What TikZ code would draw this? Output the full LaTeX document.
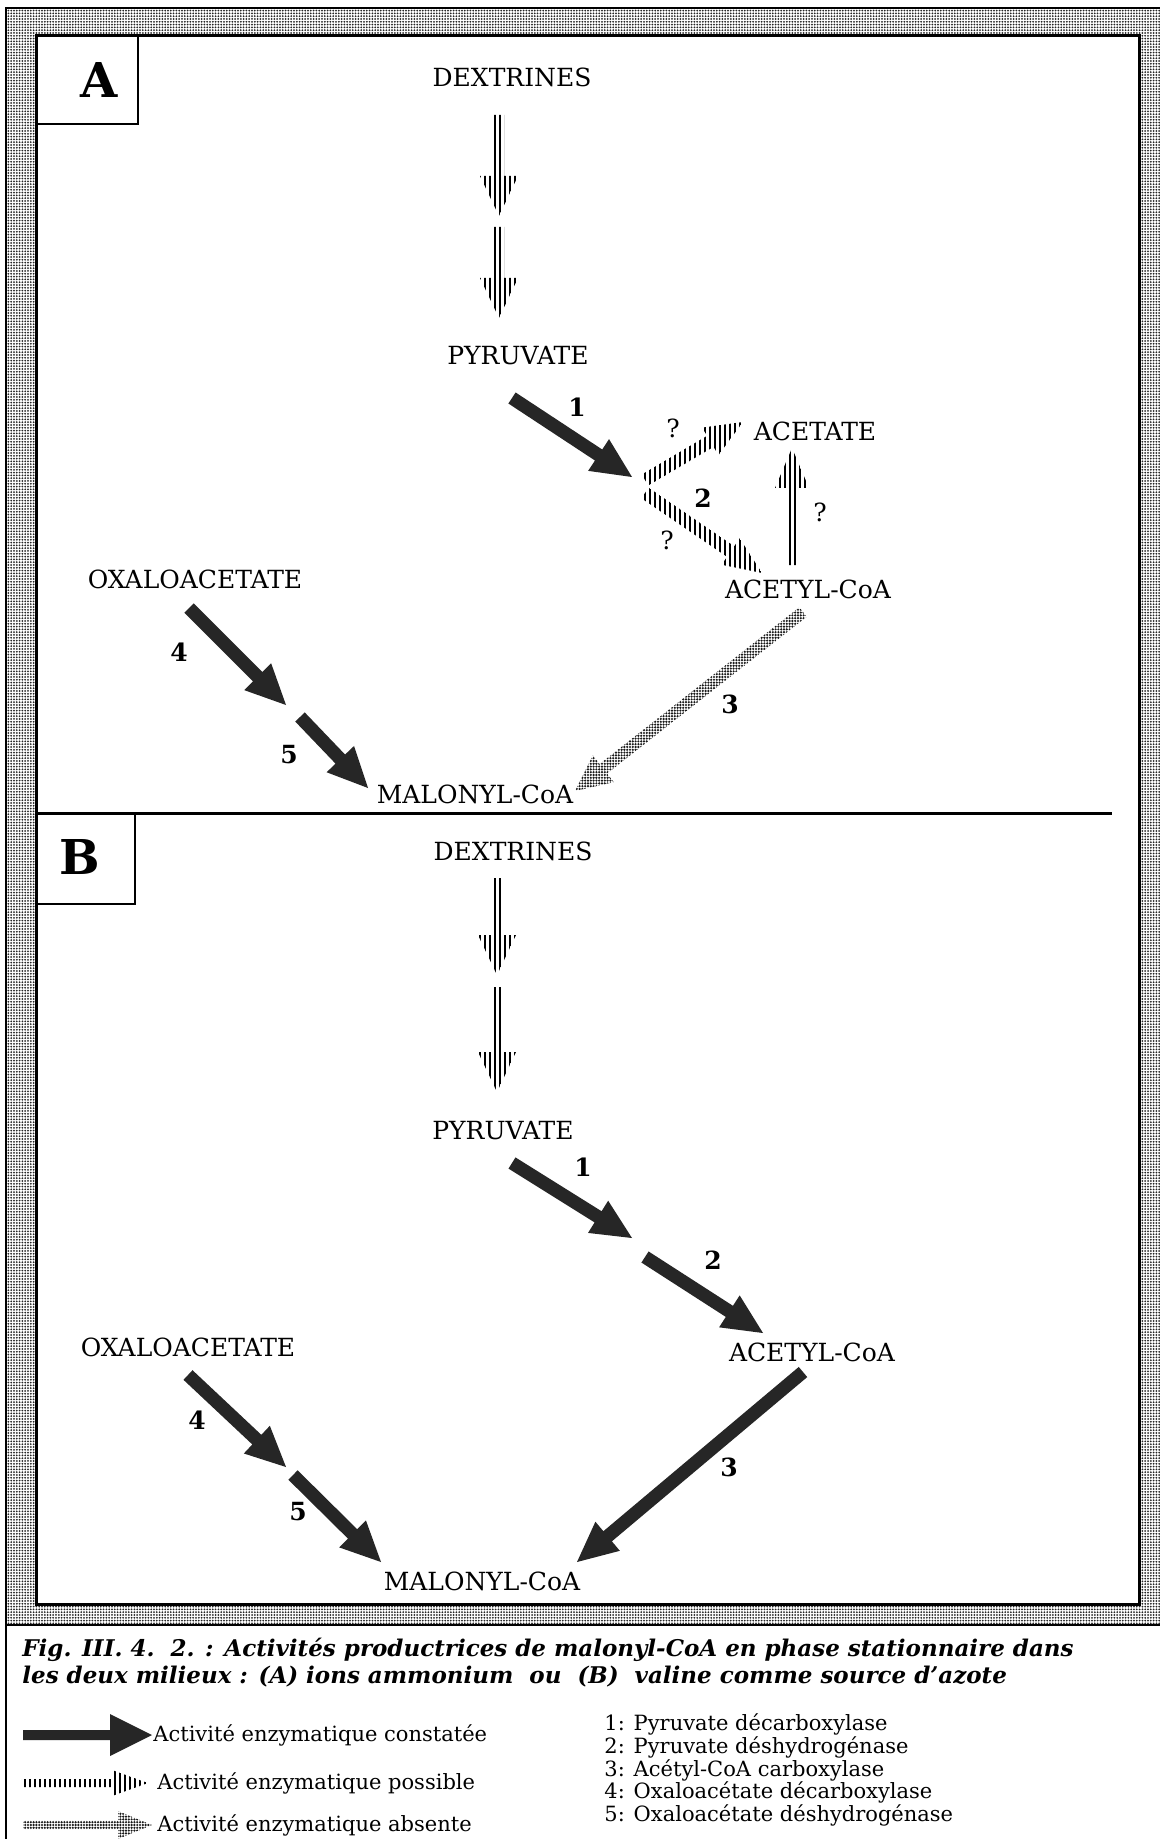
\documentclass[tikz,border=0pt]{standalone}
\usepackage{fontspec}
\setmainfont{DejaVu Serif}
\usetikzlibrary{calc,patterns.meta}

\newcommand\bigarrow[3]{%
  \path[#1] coordinate (hb) at ($(#3)!\ahl!(#2)$);
  \path[#1] ($(#2)!\asw!90:(#3)$) -- ($(hb)!\asw!-90:(#2)$) -- ($(hb)!\ahw!-90:(#2)$) -- (#3)
    -- ($(hb)!\ahw!90:(#2)$) -- ($(hb)!\asw!90:(#2)$) -- ($(#2)!\asw!-90:(#3)$) -- cycle;}

\tikzset{
  adim/.code args={#1/#2/#3}{\def\asw{#1}\def\ahw{#2}\def\ahl{#3}},
  constatee/.style={fill=black!85, adim=3.3pt/9.5pt/20pt},
  possible/.style={pattern={Lines[angle=90,distance=2.5pt,line width=1pt]}, pattern color=black, adim=3.2pt/8pt/19pt},
  absente/.style={pattern={Dots[distance=1.4pt,radius=0.6pt]}, pattern color=black!90, adim=3pt/8.5pt/18pt},
}

\begin{document}
\begin{tikzpicture}[x=0.5pt, y=-0.5pt,
    lbl/.style={font=\fontsize{12.5}{15}\selectfont},
    num/.style={font=\fontsize{12.5}{15}\selectfont\bfseries},
    panel/.style={font=\fontsize{24}{28}\selectfont\bfseries},
    legend/.style={font=\fontsize{10.5}{12}\selectfont, anchor=west, inner sep=0pt},
    caption/.style={font=\fontsize{11.5}{13}\selectfont\bfseries\itshape, anchor=west, inner sep=0pt}]

  \path[use as bounding box, fill=white] (0,0) rectangle (1160,1839);
  \fill[pattern={Dots[distance=1.4pt,radius=0.5pt]}, pattern color=black!85] (6,8) rectangle (1160,1625);
  \draw[line width=0.6pt] (6,1839) -- (6,8) -- (1160,8);
  \draw[line width=1pt] (6,1625) -- (1160,1625);
  \filldraw[fill=white, line width=1.5pt] (36,36) rectangle (1139,1604);
  \draw[line width=1.5pt] (36,813) -- (1112,813);
  \draw[line width=1pt] (36,36) rectangle (138,124);
  \draw[line width=1pt] (36,813) rectangle (135,904);
  \node[panel] (A) at (99,80) {A};
  \node[panel] (B) at (80,857) {B};

  \node[lbl] (dexA) at (512,77) {DEXTRINES};
  \node[lbl] (pyrA) at (518,356) {PYRUVATE};
  \node[lbl] (acetate) at (815,431) {ACETATE};
  \node[lbl] (acetylA) at (808,589) {ACETYL-CoA};
  \node[lbl] (oxaA) at (195,579) {OXALOACETATE};
  \node[lbl] (malA) at (475,794) {MALONYL-CoA};

  \coordinate (dA1) at (499,115); \coordinate (dA2) at (499,216);
  \coordinate (dA3) at (499,227); \coordinate (dA4) at (499,318);
  \coordinate (pA) at (512,398); \coordinate (jA1) at (632,477);
  \coordinate (jA2) at (645,480); \coordinate (aceIn) at (743,422);
  \coordinate (jA3) at (645,493); \coordinate (acyIn) at (762,573);
  \coordinate (acyUp) at (792,565); \coordinate (aceUp) at (792,448);
  \coordinate (acyOut) at (803,612); \coordinate (malIn) at (575,791);
  \coordinate (oxOut) at (189,608); \coordinate (jA4) at (286,705);
  \coordinate (jA5) at (300,717); \coordinate (malIn2) at (368,788);

  \bigarrow{possible, adim=2.6pt/9.5pt/20pt}{dA1}{dA2}
  \bigarrow{possible, adim=2.6pt/9.5pt/20pt}{dA3}{dA4}
  \bigarrow{constatee}{pA}{jA1}
  \bigarrow{possible}{jA2}{aceIn}
  \bigarrow{possible}{jA3}{acyIn}
  \bigarrow{possible, adim=3pt/8.5pt/20pt}{acyUp}{aceUp}
  \bigarrow{absente}{acyOut}{malIn}
  \bigarrow{constatee}{oxOut}{jA4}
  \bigarrow{constatee}{jA5}{malIn2}

  \node[num] (n1A) at (577,407) {1};
  \node[lbl] (q1) at (673,428) {?};
  \node[num] (n2A) at (703,498) {2};
  \node[lbl] (q2) at (667,540) {?};
  \node[lbl] (q3) at (820,512) {?};
  \node[num] (n3A) at (730,704) {3};
  \node[num] (n4A) at (179,652) {4};
  \node[num] (n5A) at (289,755) {5};

  \node[lbl] (dexB) at (513,851) {DEXTRINES};
  \node[lbl] (pyrB) at (503,1131) {PYRUVATE};
  \node[lbl] (acetylB) at (812,1352) {ACETYL-CoA};
  \node[lbl] (oxaB) at (188,1347) {OXALOACETATE};
  \node[lbl] (malB) at (482,1581) {MALONYL-CoA};

  \coordinate (dB1) at (497,878); \coordinate (dB2) at (497,975);
  \coordinate (dB3) at (497,987); \coordinate (dB4) at (497,1092);
  \coordinate (pB) at (512,1163); \coordinate (jB1) at (632,1238);
  \coordinate (jB2) at (645,1257); \coordinate (acyInB) at (763,1333);
  \coordinate (acyOutB) at (803,1372); \coordinate (malInB) at (577,1562);
  \coordinate (oxOutB) at (188,1375); \coordinate (jB4) at (286,1467);
  \coordinate (jB5) at (293,1475); \coordinate (malInB2) at (381,1562);

  \bigarrow{possible, adim=2.6pt/9.5pt/20pt}{dB1}{dB2}
  \bigarrow{possible, adim=2.6pt/9.5pt/20pt}{dB3}{dB4}
  \bigarrow{constatee}{pB}{jB1}
  \bigarrow{constatee}{jB2}{acyInB}
  \bigarrow{constatee}{acyOutB}{malInB}
  \bigarrow{constatee}{oxOutB}{jB4}
  \bigarrow{constatee}{jB5}{malInB2}

  \node[num] (n1B) at (583,1167) {1};
  \node[num] (n2B) at (713,1260) {2};
  \node[num] (n3B) at (729,1467) {3};
  \node[num] (n4B) at (197,1420) {4};
  \node[num] (n5B) at (298,1512) {5};

  \node[caption] (cap1) at (22,1650) {Fig. III. 4.~~2. : Activités productrices de malonyl-CoA en phase stationnaire dans};
  \node[caption] (cap2) at (22,1677) {les deux milieux : (A) ions ammonium~~ou~~(B)~~valine comme source d'azote};

  \coordinate (lg1) at (23,1735); \coordinate (lg1e) at (152,1735);
  \coordinate (lg2) at (23,1783); \coordinate (lg2e) at (148,1783);
  \coordinate (lg3) at (23,1825); \coordinate (lg3e) at (152,1825);
  \bigarrow{constatee, adim=2.5pt/10.5pt/21pt}{lg1}{lg1e}
  \bigarrow{possible, adim=2pt/6.5pt/18pt}{lg2}{lg2e}
  \bigarrow{absente, adim=2.2pt/7pt/17pt}{lg3}{lg3e}
  \node[legend] (con) at (153,1735) {Activité enzymatique constatée};
  \node[legend] (pos) at (157,1783) {Activité enzymatique possible};
  \node[legend] (abs) at (157,1825) {Activité enzymatique absente};

  \node[legend] (e1) at (604,1724) {1: Pyruvate décarboxylase};
  \node[legend] (e2) at (604,1747) {2: Pyruvate déshydrogénase};
  \node[legend] (e3) at (604,1770) {3: Acétyl-CoA carboxylase};
  \node[legend] (e4) at (604,1792) {4: Oxaloacétate décarboxylase};
  \node[legend] (e5) at (604,1815) {5: Oxaloacétate déshydrogénase};
\end{tikzpicture}
\end{document}
